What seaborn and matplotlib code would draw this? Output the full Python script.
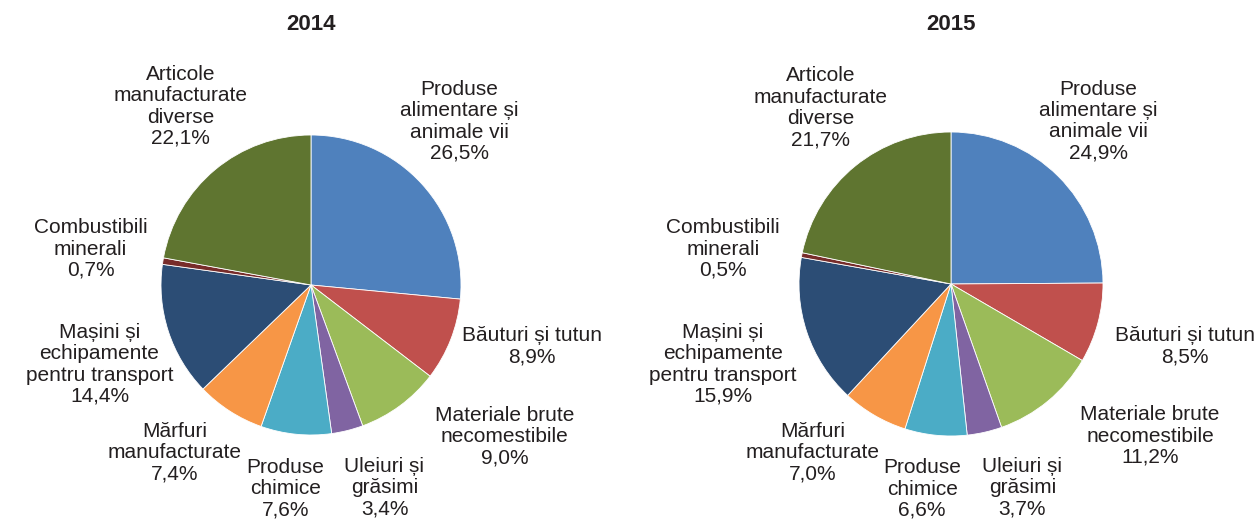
import matplotlib
matplotlib.use('Agg')
import matplotlib.pyplot as plt
import seaborn as sns

sns.set_theme(style='white')
plt.rcParams['font.family'] = ['Liberation Sans', 'DejaVu Sans']

# categories (clockwise from 12 o'clock)
categories = ['Produse\nalimentare și\nanimale vii', 'Băuturi și tutun',
              'Materiale brute\nnecomestibile', 'Uleiuri și\ngrăsimi',
              'Produse\nchimice', 'Mărfuri\nmanufacturate',
              'Mașini și\nechipamente\npentru transport',
              'Combustibili\nminerali', 'Articole\nmanufacturate\ndiverse']
values_2014 = [26.5, 8.9, 9.0, 3.4, 7.6, 7.4, 14.4, 0.7, 22.1]
values_2015 = [24.9, 8.5, 11.2, 3.7, 6.6, 7.0, 15.9, 0.5, 21.7]
years = ['2014', '2015']

colors = ['#4F81BD', '#C0504D', '#9BBB59', '#8064A2', '#4BACC6',
          '#F79646', '#2C4D75', '#772C2A', '#5F7530']

# label centres in pie-radius units
label_pos = {
    '2014': [(0.99, 1.09), (1.47, -0.41), (1.29, -1.01), (0.49, -1.35),
             (-0.17, -1.36), (-0.91, -1.12), (-1.41, -0.53), (-1.47, 0.24),
             (-0.87, 1.19)],
    '2015': [(0.97, 1.07), (1.54, -0.41), (1.31, -1.0), (0.47, -1.34),
             (-0.19, -1.35), (-0.91, -1.11), (-1.5, -0.53), (-1.5, 0.23),
             (-0.86, 1.16)],
}

text_color = '#231F20'

fig = plt.figure(figsize=(12.57, 5.21), dpi=100)

# axes boxes in pixels: (centre x, centre y from top, radius)
boxes = [(311, 285, 150), (951, 284, 152)]
W, H = 1257, 521

for year, vals, (cx, cy, r) in zip(years, [values_2014, values_2015], boxes):
    ax = fig.add_axes([(cx - r) / W, (H - cy - r) / H, 2 * r / W, 2 * r / H])
    ax.pie(vals, colors=colors, startangle=90, counterclock=False,
           radius=1, wedgeprops=dict(edgecolor='white', linewidth=0.6))
    ax.set_xlim(-1, 1)
    ax.set_ylim(-1, 1)
    ax.set_aspect('equal')
    ax.axis('off')
    for cat, v, (lx, ly) in zip(categories, vals, label_pos[year]):
        txt = cat + '\n' + f'{v:.1f}'.replace('.', ',') + '%'
        ax.text(lx, ly, txt, ha='center', va='center', fontsize=15,
                color=text_color, linespacing=1.15, clip_on=False)
    fig.text(cx / W, 1 - 25 / H, year, ha='center', va='center',
             fontsize=16, fontweight='bold', color=text_color)

fig.savefig('out.png', dpi=100)
